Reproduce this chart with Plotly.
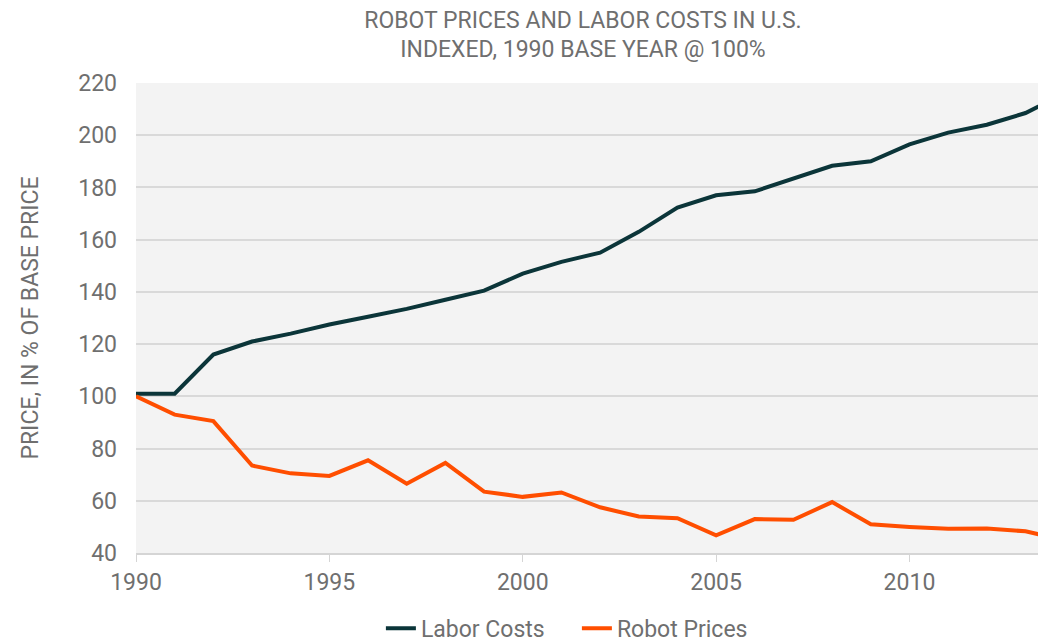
import plotly.graph_objects as go

years = list(range(1990, 2015))
labor_costs = [101, 101, 116, 121, 124, 127.5, 130.5, 133.5, 137, 140.5,
               147, 151.5, 155, 163, 172.3, 177, 178.5, 183.5, 188.3, 190,
               196.5, 201, 204, 208.5, 216]
robot_prices = [100, 93, 90.5, 73.5, 70.5, 69.5, 75.5, 66.5, 74.5, 63.5,
                61.5, 63.2, 57.5, 54, 53.3, 46.8, 53, 52.7, 59.5, 51,
                50, 49.3, 49.4, 48.3, 45]
x_ticks = [1990, 1995, 2000, 2005, 2010]
y_ticks = [40, 60, 80, 100, 120, 140, 160, 180, 200, 220]

FONT = "Roboto, Arial, sans-serif"
GRAY = "#6f6f6f"

fig = go.Figure()
fig.add_trace(go.Scatter(x=years, y=labor_costs, name="Labor Costs", mode="lines",
                         line=dict(color="#0b3539", width=4)))
fig.add_trace(go.Scatter(x=years, y=robot_prices, name="Robot Prices", mode="lines",
                         line=dict(color="#ff4e00", width=4)))

fig.update_layout(
    width=1046, height=642,
    margin=dict(l=128, r=8, t=75, b=97, autoexpand=False),
    paper_bgcolor="white", plot_bgcolor="#f3f3f3",
    font=dict(family=FONT, color=GRAY, size=22),
    title=dict(text="ROBOT PRICES AND LABOR COSTS IN U.S.<br>INDEXED, 1990 BASE YEAR @ 100%",
               x=0.5497, xanchor="center", xref="container",
               y=1 - 19.5 / 642, yanchor="middle", yref="container", automargin=False,
               font=dict(family=FONT, size=23, color=GRAY)),
    xaxis=dict(range=[1990, 2013.53], tickvals=x_ticks, ticks="outside", ticklen=7,
               tickcolor="#d5d5d5", tickwidth=1, showgrid=False, showline=True,
               linecolor="#d5d5d5", linewidth=2, zeroline=False, automargin=False,
               tickfont=dict(size=23, color=GRAY)),
    yaxis=dict(range=[40, 220], tickvals=y_ticks, showgrid=True, gridcolor="#d9d9d9",
               gridwidth=2, zeroline=False, ticks="", ticklabelstandoff=18,
               automargin=False,
               tickfont=dict(size=23, color=GRAY),
               title=dict(text="PRICE, IN % OF BASE PRICE", standoff=33,
                          font=dict(size=23, color=GRAY))),
    legend=dict(orientation="h", x=0.4845, xanchor="center", y=-0.16, yanchor="middle",
                entrywidth=151, entrywidthmode="pixels",
                font=dict(size=23, color=GRAY), bgcolor="rgba(0,0,0,0)"),
    showlegend=True,
)

fig.write_html("out.html")
